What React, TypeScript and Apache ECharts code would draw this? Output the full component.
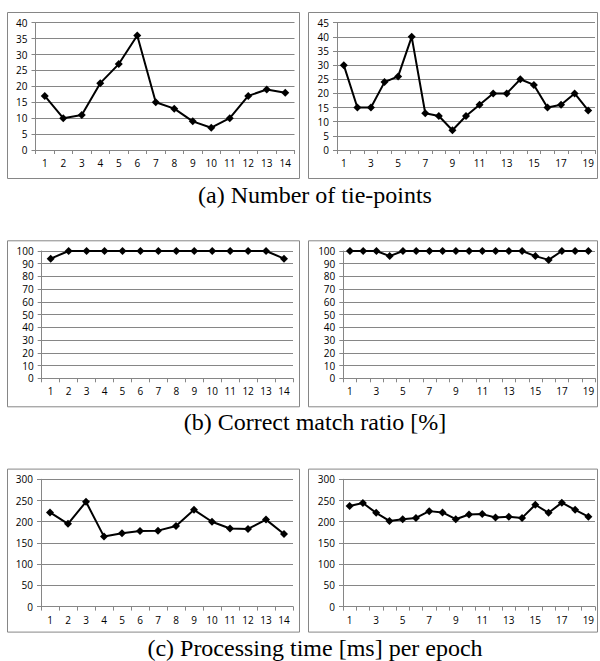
import React, { useEffect, useRef } from "react";
import * as echarts from "echarts";

const catsA = Array.from({ length: 14 }, (_, i) => String(i + 1));
const catsB = Array.from({ length: 19 }, (_, i) => String(i + 1));

const tieLeft = [17, 10, 11, 21, 27, 36, 15, 13, 9, 7, 10, 17, 19, 18];
const tieRight = [30, 15, 15, 24, 26, 40, 13, 12, 7, 12, 16, 20, 20, 25, 23, 15, 16, 20, 14];
const ratioLeft = [94, 100, 100, 100, 100, 100, 100, 100, 100, 100, 100, 100, 100, 94];
const ratioRight = [100, 100, 100, 96, 100, 100, 100, 100, 100, 100, 100, 100, 100, 100, 96, 93, 100, 100, 100];
const timeLeft = [222, 195, 247, 165, 173, 178, 179, 190, 228, 200, 184, 183, 205, 171];
const timeRight = [237, 244, 221, 202, 206, 209, 225, 222, 206, 217, 218, 210, 212, 209, 240, 221, 245, 228, 212];

const captions = ["(a) Number of tie-points", "(b) Correct match ratio [%]", "(c) Processing time [ms] per epoch"];
const captionY = [195, 422, 648];

const ROW_DY = 228.3;
const FONT = "Open Sans";

export default function App() {
  const ref = useRef<HTMLDivElement>(null);
  useEffect(() => {
    const chart = echarts.init(ref.current!, undefined, { renderer: "svg" });
    const panels = [
      { row: 0, left: 35.5, right: 294.5, cats: catsA, data: tieLeft, max: 40, interval: 5, labInt: 0 },
      { row: 0, left: 337, right: 595, cats: catsB, data: tieRight, max: 45, interval: 5, labInt: 1 },
      { row: 1, left: 41.7, right: 293, cats: catsA, data: ratioLeft, max: 100, interval: 10, labInt: 0 },
      { row: 1, left: 343.3, right: 595, cats: catsB, data: ratioRight, max: 100, interval: 10, labInt: 1 },
      { row: 2, left: 41, right: 293, cats: catsA, data: timeLeft, max: 300, interval: 50, labInt: 0 },
      { row: 2, left: 343, right: 595, cats: catsB, data: timeRight, max: 300, interval: 50, labInt: 1 },
    ];
    const grid = panels.map((p) => ({
      left: p.left,
      top: 22.7 + p.row * ROW_DY,
      width: p.right - p.left,
      height: 127.3,
      containLabel: false,
    }));
    const xAxis = panels.map((p, i) => ({
      type: "category" as const,
      gridIndex: i,
      data: p.cats,
      boundaryGap: true,
      axisLine: { lineStyle: { color: "#868686", width: 1 } },
      axisTick: { show: true, length: 4, lineStyle: { color: "#868686" }, interval: 0 },
      axisLabel: { color: "#000", fontSize: 10, fontFamily: FONT, margin: 8, interval: p.labInt },
      splitLine: { show: false },
    }));
    const yAxis = panels.map((p, i) => ({
      type: "value" as const,
      gridIndex: i,
      min: 0,
      max: p.max,
      interval: p.interval,
      axisLine: { show: true, lineStyle: { color: "#868686", width: 1 } },
      axisTick: { show: true, length: 4, lineStyle: { color: "#868686" } },
      axisLabel: { color: "#000", fontSize: 10, fontFamily: FONT, margin: 8 },
      splitLine: { show: true, lineStyle: { color: "#868686", width: 1 } },
    }));
    const series = panels.map((p, i) => ({
      type: "line" as const,
      xAxisIndex: i,
      yAxisIndex: i,
      data: p.data,
      symbol: "diamond",
      symbolSize: 8,
      lineStyle: { color: "#000", width: 2 },
      itemStyle: { color: "#000" },
    }));
    const graphic: any[] = [];
    for (let r = 0; r < 3; r++) {
      const top = 12 + r * ROW_DY;
      const h = r === 2 ? 163 : 166;
      graphic.push({ type: "rect", shape: { x: 7.5, y: top + 0.5, width: 292, height: h }, style: { fill: "none", stroke: "#868686", lineWidth: 1 }, silent: true });
      graphic.push({ type: "rect", shape: { x: 308.5, y: top + 0.5, width: 289, height: h }, style: { fill: "none", stroke: "#868686", lineWidth: 1 }, silent: true });
      graphic.push({
        type: "text",
        x: 315,
        y: captionY[r],
        style: { text: captions[r], fill: "#000", font: '24px "Liberation Serif"', textAlign: "center", textVerticalAlign: "middle" },
        silent: true,
      });
    }
    chart.setOption({
      animation: false,
      backgroundColor: "#fff",
      grid,
      xAxis,
      yAxis,
      series,
      graphic,
    });
    return () => chart.dispose();
  }, []);
  return <div ref={ref} style={{ position: "absolute", left: 0, top: 0, width: 600, height: 661 }} />;
}
